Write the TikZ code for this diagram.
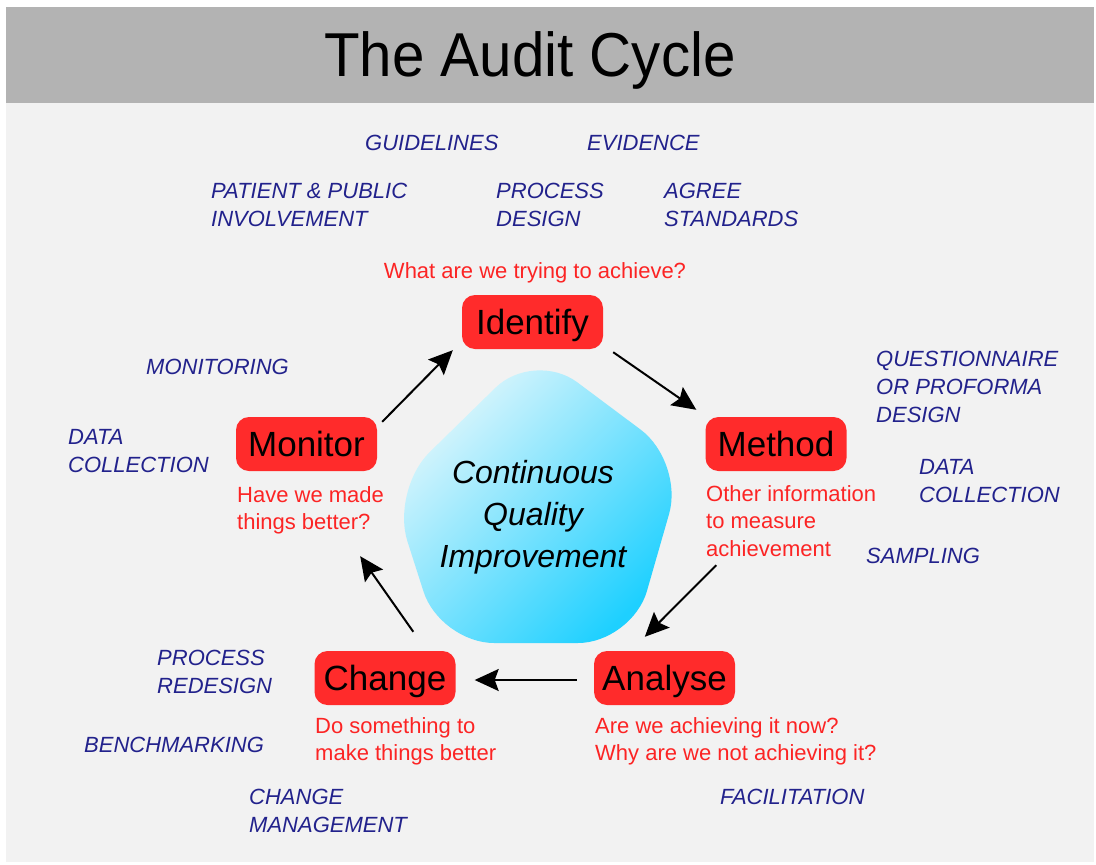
\documentclass[tikz,border=0pt]{standalone}
\usepackage{fontspec}
\setmainfont{Liberation Sans}
\newfontfamily\titlefont[FakeStretch=0.94]{Liberation Sans}
\usetikzlibrary{arrows.meta}
\definecolor{bandgray}{RGB}{179,179,179}
\definecolor{bodygray}{RGB}{242,242,242}
\definecolor{boxred}{RGB}{255,43,43}
\definecolor{labred}{RGB}{252,36,36}
\definecolor{labblue}{RGB}{34,34,140}
\definecolor{cyanlight}{RGB}{232,248,252}
\definecolor{cyandark}{RGB}{30,208,255}
\begin{document}
\begin{tikzpicture}[x=1pt,y=-1pt,
  stagebox/.style={fill=boxred, rounded corners=13pt, minimum width=141pt,
    minimum height=54pt, inner sep=0pt, text height=39pt, text depth=15pt,
    font=\fontsize{35}{40}\selectfont, text=black},
  redtxt/.style={text=labred, font=\fontsize{22}{27.5}\selectfont, align=left,
    anchor=north west, inner sep=0pt},
  bluetxt/.style={text=labblue, font=\fontsize{22}{28}\selectfont\itshape,
    align=left, anchor=north west, inner sep=0pt},
  arr/.style={-{Stealth[length=24pt,width=22pt,inset=4pt]}, line width=2pt, black}]
\useasboundingbox (0,0) rectangle (1096,865);
\fill[white] (0,0) rectangle (1096,865);
\fill[bodygray] (6,7) rectangle (1094,862);
\fill[bandgray] (6,7) rectangle (1094,103);
\node[anchor=base, inner sep=0pt, font=\titlefont\fontsize{62}{70}\selectfont] (title) at (530,76) {The Audit Cycle};

% central pentagon
\shade[top color=cyanlight, bottom color=cyandark, shading angle=45, rounded corners=54pt]
  (534,350) -- (684,462) -- (632,643) -- (440,643) -- (391,490) -- cycle;
\node[anchor=north, align=center, inner sep=0pt, font=\fontsize{32}{42}\selectfont\itshape] (cqi) at (533,460)
  {Continuous\\Quality\\Improvement};

% stage boxes
\node[stagebox] (identify) at (532.5,322) {Identify};
\node[stagebox] (method) at (776,444) {Method};
\node[stagebox] (monitor) at (306.5,444) {Monitor};
\node[stagebox] (change) at (385,678) {Change};
\node[stagebox] (analyse) at (664.5,678) {Analyse};

% red questions
\node[redtxt, anchor=north] (qidentify) at (535,262) {What are we trying to achieve?};
\node[redtxt] (qmethod) at (706,485) {Other information\\to measure\\achievement};
\node[redtxt] (qmonitor) at (237,486) {Have we made\\things better?};
\node[redtxt] (qchange) at (315,717) {Do something to\\make things better};
\node[redtxt] (qanalyse) at (595,717) {Are we achieving it now?\\Why are we not achieving it?};

% blue labels
\node[bluetxt] (guidelines) at (365,135) {GUIDELINES};
\node[bluetxt] (evidence) at (587,135) {EVIDENCE};
\node[bluetxt] (patient) at (211,183) {PATIENT \& PUBLIC\\INVOLVEMENT};
\node[bluetxt] (processdesign) at (496,183) {PROCESS\\DESIGN};
\node[bluetxt] (agree) at (664,183) {AGREE\\STANDARDS};
\node[bluetxt] (monitoring) at (146,359) {MONITORING};
\node[bluetxt] (datal) at (68,429) {DATA\\COLLECTION};
\node[bluetxt] (question) at (876,351) {QUESTIONNAIRE\\OR PROFORMA\\DESIGN};
\node[bluetxt] (datar) at (919,459) {DATA\\COLLECTION};
\node[bluetxt] (sampling) at (866,548) {SAMPLING};
\node[bluetxt] (redesign) at (157,650) {PROCESS\\REDESIGN};
\node[bluetxt] (bench) at (84,737) {BENCHMARKING};
\node[bluetxt] (changemgmt) at (249,789) {CHANGE\\MANAGEMENT};
\node[bluetxt] (facil) at (720,789) {FACILITATION};

% cycle arrows
\draw[arr] ([shift={(5,5)}]monitor.north east) -- ([shift={(-9,1)}]identify.south west);
\draw[arr] ([shift={(10,3)}]identify.south east) -- ([shift={(-9,-7)}]method.north west);
\draw[arr] ([shift={(11,94)}]method.south west) -- ([shift={(51,-14)}]analyse.north west);
\draw[arr] ([shift={(-17,2)}]analyse.west) -- ([shift={(19,2)}]change.east);
\draw[arr] ([shift={(99,-19)}]change.north west) -- ([shift={(-17,85)}]monitor.south east);
\end{tikzpicture}
\end{document}
